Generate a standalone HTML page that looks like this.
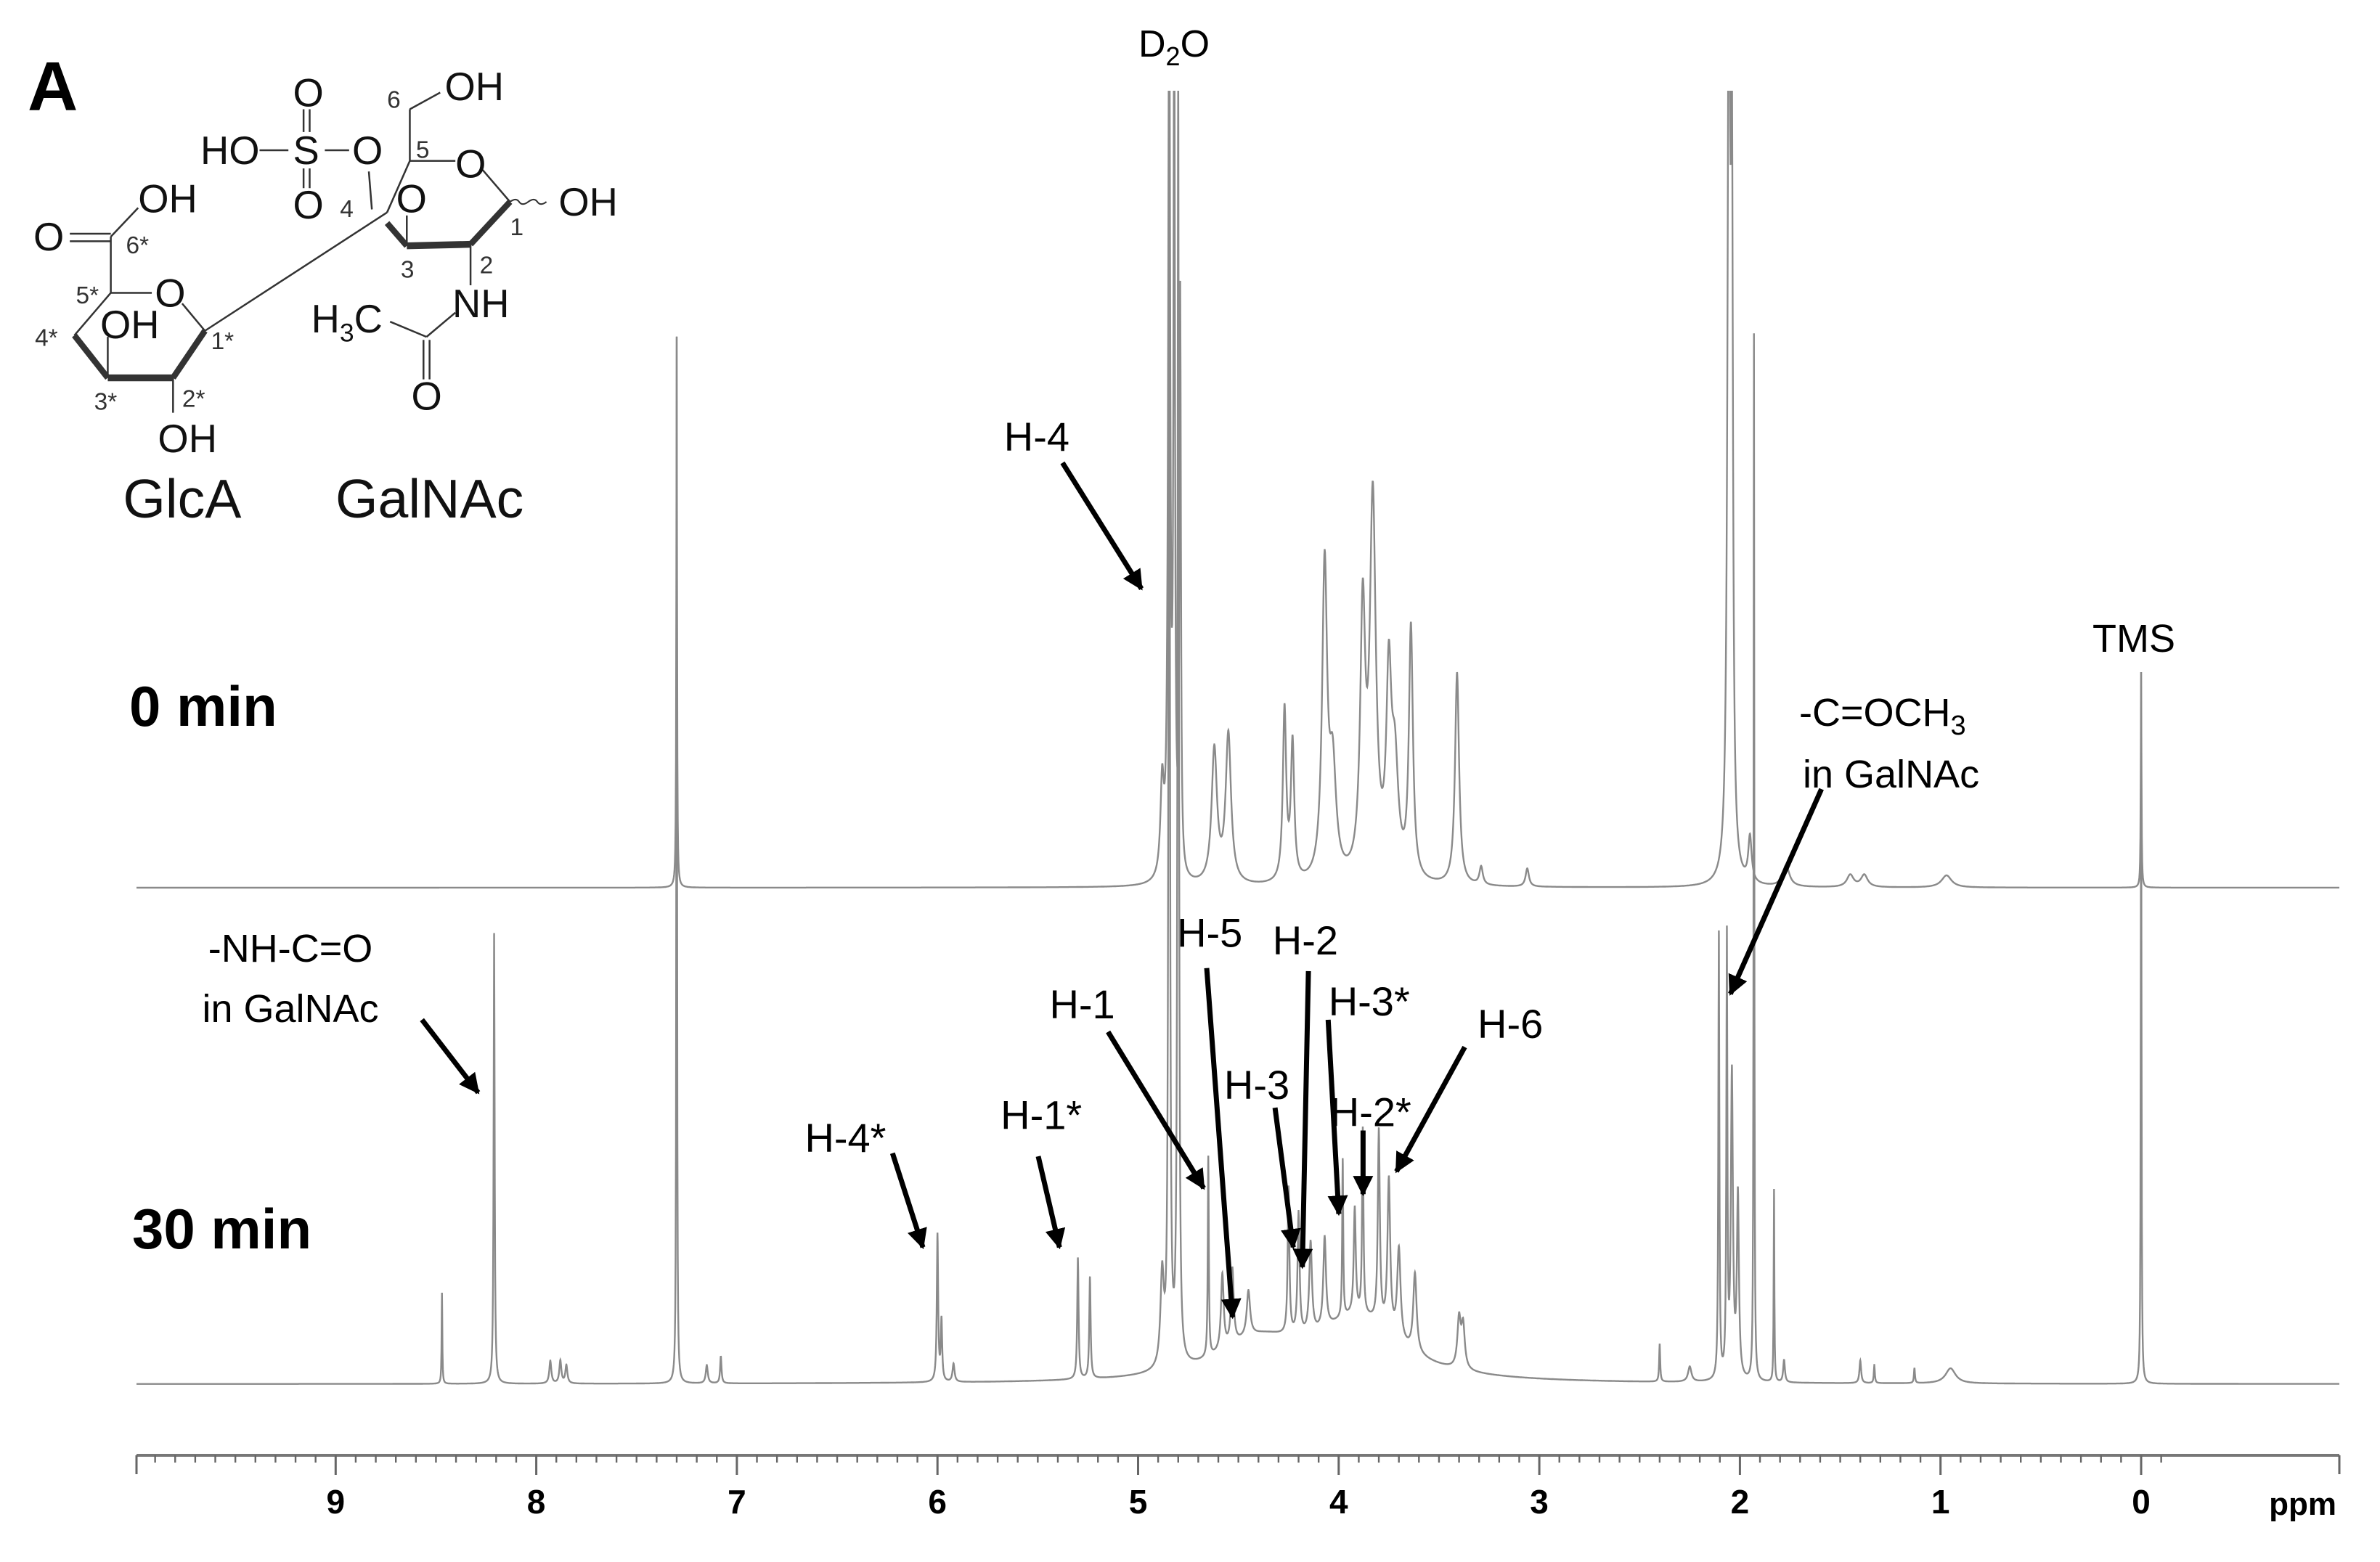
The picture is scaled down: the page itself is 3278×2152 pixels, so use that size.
<!DOCTYPE html>
<html><head><meta charset="utf-8"><style>
html,body{margin:0;padding:0;background:#fff}
svg{display:block}
text{font-family:"Liberation Sans",sans-serif}
</style></head><body>
<svg id="c" width="3278" height="2152" viewBox="0 0 3278 2152">
<defs>
<clipPath id="clipTop"><rect x="0" y="125" width="3278" height="2000"/></clipPath>
<marker id="ah" viewBox="0 0 10 10" refX="9" refY="5" markerWidth="4" markerHeight="4" orient="auto"><path d="M0,0 L10,5 L0,10 z" fill="#000"/></marker>
</defs>
<g id="mol" transform="scale(2.0906)" fill="none" stroke="#333" stroke-width="1.2">
<!-- sulfate -->
<line x1="171" y1="99" x2="190" y2="99"/><line x1="214" y1="99" x2="230" y2="99"/>
<line x1="200" y1="72" x2="200" y2="87"/><line x1="204" y1="72" x2="204" y2="87"/>
<line x1="200" y1="111" x2="200" y2="124"/><line x1="204" y1="111" x2="204" y2="124"/>
<line x1="243" y1="113" x2="245" y2="138"/>
<!-- GalNAc ring -->
<line x1="270" y1="106" x2="270" y2="72"/><line x1="270" y1="72" x2="290" y2="61"/>
<line x1="270" y1="106" x2="300" y2="106"/><line x1="318" y1="112" x2="336" y2="133"/>
<path d="M336,133 L310,161" stroke-width="4"/><path d="M310,161 L268,162" stroke-width="4.5"/><path d="M268,162 L255,147" stroke-width="4"/>
<line x1="270" y1="106" x2="255" y2="140"/><line x1="268" y1="162" x2="268" y2="142"/>
<path d="M336,133 q4,-3 6,0 t6,0 t6,0 t6,0" stroke-width="1"/>
<line x1="310" y1="161" x2="310" y2="188"/>
<line x1="300" y1="206" x2="281" y2="222"/><line x1="257" y1="212" x2="281" y2="222"/>
<line x1="279" y1="224" x2="279" y2="250"/><line x1="283" y1="224" x2="283" y2="250"/>
<!-- glycosidic -->
<line x1="255" y1="140" x2="135" y2="218"/>
<!-- GlcA -->
<line x1="46" y1="154" x2="73" y2="154"/><line x1="46" y1="159" x2="73" y2="159"/>
<line x1="73" y1="156" x2="91" y2="137"/><line x1="73" y1="156" x2="73" y2="193"/>
<line x1="73" y1="193" x2="100" y2="193"/><line x1="120" y1="200" x2="135" y2="218"/>
<path d="M135,218 L114,249" stroke-width="4"/><path d="M114,249 L71,249" stroke-width="4.5"/><path d="M71,249 L49,221" stroke-width="4"/>
<line x1="49" y1="221" x2="73" y2="193"/><line x1="71" y1="249" x2="71" y2="222"/><line x1="114" y1="249" x2="114" y2="272"/>
<g fill="#111" stroke="none" font-size="26">
<text x="132" y="108">HO</text><text x="193" y="108">S</text><text x="193" y="70">O</text><text x="193" y="144">O</text><text x="232" y="108">O</text>
<text x="293" y="66">OH</text><text x="300" y="117">O</text><text x="368" y="142">OH</text><text x="261" y="140">O</text>
<text x="298" y="209">NH</text><text x="205" y="219">H<tspan font-size="17" dy="6">3</tspan><tspan dy="-6">C</tspan></text><text x="271" y="270">O</text>
<text x="91" y="140">OH</text><text x="22" y="165">O</text><text x="102" y="202">O</text><text x="66" y="223">OH</text><text x="104" y="298">OH</text>
</g>
<g fill="#333" stroke="none" font-size="16">
<text x="255" y="71">6</text><text x="274" y="104">5</text><text x="336" y="155">1</text><text x="224" y="143">4</text><text x="264" y="183">3</text><text x="316" y="180">2</text>
<text x="83" y="167">6*</text><text x="50" y="200">5*</text><text x="23" y="228">4*</text><text x="139" y="230">1*</text><text x="62" y="270">3*</text><text x="120" y="268">2*</text>
</g>
<g fill="#111" stroke="none" font-size="36"><text x="81" y="341">GlcA</text><text x="221" y="341">GalNAc</text></g>
</g>
<text x="38" y="152" font-size="96" font-weight="bold">A</text>
<text x="1617" y="78" font-size="52" text-anchor="middle">D<tspan font-size="36" dy="12">2</tspan><tspan dy="-12">O</tspan></text>
<text x="178" y="1000" font-size="78" font-weight="bold">0 min</text>
<text x="182" y="1720" font-size="78" font-weight="bold">30 min</text>
<g id="spec"></g><g id="axis"></g><g id="ann"></g>
</svg>
<script>
const ppmTicks=[9,8,7,6,5,4,3,2,1,0];
const topPpm=[7.30,4.88,4.845,4.82,4.79,4.62,4.55,4.27,4.23,4.07,4.03,3.88,3.83,3.75,3.72,3.64,3.41,3.29,3.06,2.055,2.04,1.95,1.77,1.45,1.38,0.97,0.0];
const topHeight=[363,60,600,600,380,88,98,113,90,205,70,170,245,125,70,165,140,12,12,600,420,30,14,8,8,8,142];
const topWidth=[0.002,0.01,0.006,0.004,0.004,0.016,0.016,0.01,0.01,0.015,0.02,0.015,0.018,0.015,0.02,0.012,0.012,0.01,0.01,0.008,0.006,0.01,0.02,0.02,0.02,0.03,0.002];
const botPpm=[8.47,8.21,7.93,7.88,7.85,7.30,7.15,7.08,6.00,5.98,5.92,5.30,5.24,4.88,4.845,4.80,4.65,4.58,4.53,4.45,4.25,4.20,4.14,4.07,3.98,3.92,3.88,3.80,3.75,3.70,3.62,3.40,3.38,2.40,2.25,2.105,2.065,2.04,2.01,1.93,1.83,1.78,1.40,1.33,1.13,0.95,0.0,4.4,3.9];
const botHeight=[60,297,15,15,12,690,12,18,97,40,12,80,67,60,850,850,132,50,50,30,97,80,60,60,104,70,122,127,100,60,52,32,28,25,10,294,287,200,120,690,127,15,15,12,10,10,469,25,40];
const botWidth=[0.002,0.003,0.006,0.006,0.006,0.002,0.006,0.004,0.004,0.004,0.006,0.004,0.004,0.01,0.004,0.004,0.003,0.008,0.008,0.01,0.005,0.006,0.008,0.008,0.003,0.006,0.004,0.006,0.008,0.01,0.01,0.01,0.01,0.003,0.01,0.003,0.003,0.006,0.006,0.002,0.002,0.005,0.005,0.003,0.003,0.03,0.002,0.25,0.25];
const tickLabels=["9","8","7","6","5","4","3","2","1","0"];
const NS="http://www.w3.org/2000/svg";
const X0=2949,PX=276.3,S=2.0906;
function xs(p){return X0-p*PX;}
function spectrum(pp,hh,ww,base,name){
  const xsList=[];
  for(let x=188;x<=3222;x+=0.5)xsList.push(x);
  pp.forEach(p=>{const x=xs(p);if(x>=188&&x<=3222)xsList.push(x);});
  xsList.sort((a,b)=>a-b);
  let d="";
  for(const x of xsList){
    const p=(X0-x)/PX;let v=0;
    for(let i=0;i<pp.length;i++){const t=(p-pp[i])/ww[i];v+=hh[i]/(1+t*t);}
    const y=base-v*S;
    d+=(d?"L":"M")+x.toFixed(2)+","+y.toFixed(1);
  }
  const path=document.createElementNS(NS,"path");
  path.setAttribute("d",d);path.setAttribute("fill","none");path.setAttribute("stroke","#8a8a8a");path.setAttribute("stroke-width","2.4");
  path.setAttribute("clip-path","url(#clipTop)");
  
  
  document.getElementById("spec").appendChild(path);
}
spectrum(topPpm,topHeight,topWidth,1223,"spectrum-0-min");
spectrum(botPpm,botHeight,botWidth,1907,"spectrum-30-min");
const ax=document.getElementById("axis");
function line(x1,y1,x2,y2,c,w,g){const l=document.createElementNS(NS,"line");l.setAttribute("x1",x1);l.setAttribute("y1",y1);l.setAttribute("x2",x2);l.setAttribute("y2",y2);l.setAttribute("stroke",c);l.setAttribute("stroke-width",w);g.appendChild(l);return l;}
const axl=line(188,2005,3222,2005,"#777",4,ax);


for(let k=-1;k<=100;k++){const p=k/10;const x=xs(p);if(x<188||x>3223)continue;
  const big=(k%10===0);line(x,2005,x,2005+(big?27:10),"#666",big?3:2.4,ax);}
line(188,2005,188,2031,"#666",3,ax);line(3222,2005,3222,2031,"#666",3,ax);
ppmTicks.forEach((p,i)=>{const t=document.createElementNS(NS,"text");t.setAttribute("x",xs(p));t.setAttribute("y",2085);t.setAttribute("text-anchor","middle");t.setAttribute("font-size","46");t.setAttribute("font-weight","bold");t.textContent=tickLabels[i];
  
  
  ax.appendChild(t);});
const pl=document.createElementNS(NS,"text");pl.setAttribute("x",3218);pl.setAttribute("y",2087);pl.setAttribute("text-anchor","end");pl.setAttribute("font-size","44");pl.setAttribute("font-weight","bold");pl.textContent="ppm";


ax.appendChild(pl);
const annLabels=["H-4","H-4*","H-1*","H-1","H-5","H-2","H-3","H-3*","H-2*","H-6"];
const annText=[[683,288],[557,750],[686,735],[713,662],[797,615],[860,620],[828,715],[902,660],[903,733],[995,675]];
const annArrow=[[700,305,752,388],[588,760,608,822],[684,762,698,822],[730,680,793,783],[795,638,812,868],[862,640,858,835],[840,730,852,822],[875,672,882,800],[898,745,898,787],[965,690,920,772]];
const an=document.getElementById("ann");
function txt(s,x,y,size,anchor,name){const t=document.createElementNS(NS,"text");t.setAttribute("x",x);t.setAttribute("y",y);t.setAttribute("font-size",size);t.setAttribute("text-anchor",anchor);t.textContent=s;
  
  
  an.appendChild(t);return t;}
function arrow(a){const l=line(a[0]*S,a[1]*S,a[2]*S,a[3]*S,"#000",7,an);l.setAttribute("marker-end","url(#ah)");
  
  }
annLabels.forEach((s,i)=>{txt(s,annText[i][0]*S,annText[i][1]*S+19,56,"middle","peak-label");arrow(annArrow[i]);});
txt("TMS",2939,898,54,"middle","tms-label");
const c1=txt("-C=OCH",2478,1000,54,"start","acetyl-label");
const sub=document.createElementNS(NS,"tspan");sub.setAttribute("font-size","38");sub.setAttribute("dy","12");sub.textContent="3";c1.appendChild(sub);
txt("in GalNAc",2483,1085,54,"start","acetyl-label-line2");
arrow([1200,520,1140,655]);
txt("-NH-C=O",400,1325,54,"middle","amide-label");
txt("in GalNAc",400,1408,54,"middle","amide-label-line2");
arrow([278,672,315,720]);
</script>
</body></html>
